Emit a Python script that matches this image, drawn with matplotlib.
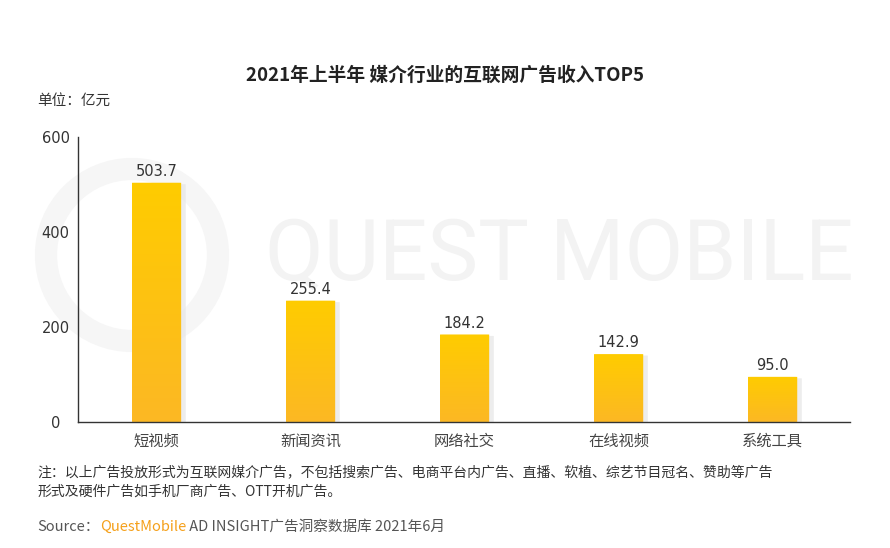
import numpy as np
import matplotlib
matplotlib.use("Agg")
import matplotlib.pyplot as plt
from matplotlib.patches import FancyBboxPatch, Circle

plt.rcParams['font.family'] = ['Noto Sans CJK SC', 'DejaVu Sans']

# -----------------------------
# Data
# -----------------------------
categories = ["短视频", "新闻资讯", "网络社交", "在线视频", "系统工具"]
values = [503.7, 255.4, 184.2, 142.9, 95.0]
yticks = [0, 200, 400, 600]

title = "2021年上半年 媒介行业的互联网广告收入TOP5"
unit_text = "单位：亿元"
note_lines = [
    "注：以上广告投放形式为互联网媒介广告，不包括搜索广告、电商平台内广告、直播、软植、综艺节目冠名、赞助等广告",
    "形式及硬件广告如手机厂商广告、OTT开机广告。",
]

# -----------------------------
# Figure
# -----------------------------
fig = plt.figure(figsize=(8.9, 5.48), dpi=100)
fig.patch.set_facecolor("white")

# watermark
wm_ax = fig.add_axes([0, 0, 1, 1], zorder=0)
wm_ax.set_xlim(0, 890)
wm_ax.set_ylim(548, 0)
wm_ax.axis("off")
wm_ax.add_patch(Circle((132, 255), 86, fill=False, lw=16, ec="#f6f6f6"))
wm = fig.text(265 / 890, 1 - 280 / 548, "QUEST MOBILE", fontsize=56,
              color="#f3f3f3", family="Roboto",
              ha="left", va="baseline", zorder=0)
fig.canvas.draw()
wbb = wm.get_window_extent(fig.canvas.get_renderer())
wm.set_fontsize(56 * 588 / wbb.width)

ax = fig.add_axes([0.0876, 0.23, 0.867, 0.52], zorder=1)
ax.patch.set_alpha(0)

x = np.arange(len(categories))
bar_w = 0.32

# gradient image for bars
grad = np.linspace(0, 1, 256).reshape(-1, 1)
cmap = matplotlib.colors.LinearSegmentedColormap.from_list(
    "bar", ["#fcb824", "#ffcc00"])

for xi, v in zip(x, values):
    # soft shadow
    sh = FancyBboxPatch((xi - bar_w / 2 + 0.03, 0), bar_w, v - 3,
                        boxstyle="round,pad=0,rounding_size=0.02",
                        fc="#e6e6e6", ec="none", alpha=0.7, zorder=1,
                        mutation_aspect=12)
    ax.add_patch(sh)
    bar = FancyBboxPatch((xi - bar_w / 2, 0), bar_w, v,
                         boxstyle="round,pad=0,rounding_size=0.02",
                         fc="none", ec="none", zorder=2, mutation_aspect=12)
    ax.add_patch(bar)
    im = ax.imshow(grad, cmap=cmap, aspect="auto", origin="lower",
                   extent=(xi - bar_w / 2, xi + bar_w / 2, 0, v), zorder=2)
    im.set_clip_path(bar)
    ax.text(xi, v + 8, f"{v:.1f}", ha="center", va="bottom",
            fontsize=10.5, color="#333333", family="DejaVu Sans")

ax.set_xlim(-0.51, 4.5)
ax.set_ylim(0, 600)
ax.set_xticks(x)
ax.set_xticklabels(categories, fontsize=11, color="#444444")
ax.set_yticks(yticks)
ax.set_yticklabels([str(t) for t in yticks], fontsize=10.5, color="#333333",
                   family="DejaVu Sans")
ax.tick_params(axis="both", length=0)
ax.tick_params(axis="y", pad=16)
ax.tick_params(axis="x", pad=8)
for lab in ax.get_yticklabels():
    lab.set_horizontalalignment("center")
for s in ["top", "right"]:
    ax.spines[s].set_visible(False)
ax.spines["left"].set_color("#333333")
ax.spines["bottom"].set_color("#333333")
ax.spines["left"].set_linewidth(1.0)
ax.spines["bottom"].set_linewidth(1.0)

# -----------------------------
# Texts
# -----------------------------
fig.text(0.5, 0.863, title, ha="center", va="center", fontsize=13.5,
         fontweight="bold", color="#222222")
fig.text(0.042, 0.817, unit_text, ha="left", va="center", fontsize=10.5,
         color="#333333")
fig.text(0.042, 0.138, note_lines[0], ha="left", va="center", fontsize=10,
         color="#333333")
fig.text(0.042, 0.102, note_lines[1], ha="left", va="center", fontsize=10,
         color="#333333")

t1 = fig.text(0.042, 0.038, "Source：", ha="left", va="center", fontsize=10.5,
              color="#555555")
t2 = fig.text(0, 0, "QuestMobile", fontsize=10.5, color="#f5a01a",
              ha="left", va="center")
t3 = fig.text(0, 0, " AD INSIGHT广告洞察数据库 2021年6月", fontsize=10.5,
              color="#555555", ha="left", va="center")
fig.canvas.draw()
r = fig.canvas.get_renderer()
bb1 = t1.get_window_extent(r).transformed(fig.transFigure.inverted())
t2.set_position((bb1.x1, 0.038))
fig.canvas.draw()
bb2 = t2.get_window_extent(r).transformed(fig.transFigure.inverted())
t3.set_position((bb2.x1, 0.038))

fig.savefig("out.png", dpi=100, facecolor="white")
